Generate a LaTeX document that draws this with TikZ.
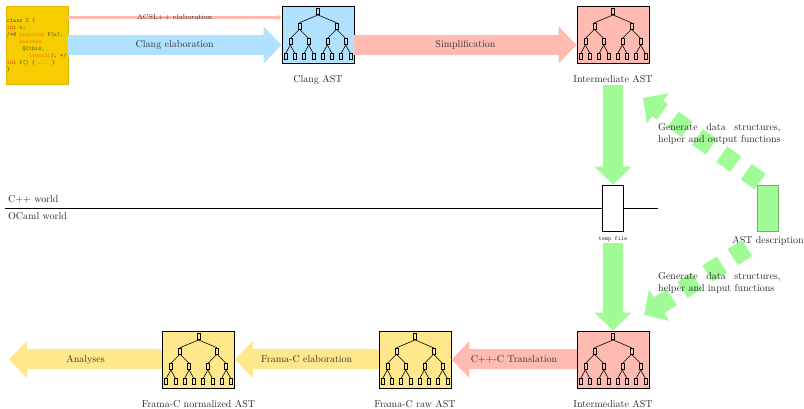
\documentclass[tikz,border=0pt]{standalone}
\usepackage{tikz}
\usetikzlibrary{arrows.meta,calc,positioning}

\definecolor{clangblue}{RGB}{176,226,255}
\definecolor{interpink}{RGB}{255,187,178}
\definecolor{framayellow}{RGB}{255,232,140}
\definecolor{codegold}{RGB}{245,205,0}
\definecolor{codegoldline}{RGB}{222,184,0}
\definecolor{astgreen}{RGB}{160,250,150}
\definecolor{astgreenline}{RGB}{105,185,95}
\definecolor{kwint}{RGB}{240,50,0}
\definecolor{kwacsl}{RGB}{255,110,0}

\tikzset{
  astnode/.style={draw,line width=0.5pt,minimum width=3pt,minimum height=6pt,inner sep=0pt},
  asttree/.pic={
    \node[astnode] (-r) at (0,22.8) {};
    \foreach \i in {0,1}{
      \node[astnode] (-a\i) at ({(2*\i-1)*18.5},8.5) {};
      \draw[line width=0.6pt] (-r.south) -- (-a\i.north);
      \foreach \j in {0,1}{
        \node[astnode] (-b\i\j) at ({(2*\i-1)*18.5+(2*\j-1)*9.2},-7.2) {};
        \draw[line width=0.6pt] (-a\i.south) -- (-b\i\j.north);
        \foreach \k in {0,1}{
          \node[astnode] (-c\i\j\k) at ({(2*\i-1)*18.5+(2*\j-1)*9.2+(2*\k-1)*4.6},-22.2) {};
          \draw[line width=0.6pt] (-b\i\j.south) -- (-c\i\j\k.north);
        }
      }
    }
  },
}

\begin{document}
\begin{tikzpicture}[
  x=1pt,y=1pt,
  astbox/.style  ={draw,line width=0.8pt,minimum width=72pt,minimum height=57pt,inner sep=0pt,
                   label={[label distance=8pt,text=black!85]below:#1}},
  filebox/.style ={draw,line width=0.8pt,minimum width=21pt,minimum height=46pt,inner sep=0pt},
  codebox/.style ={draw=codegoldline,fill=codegold,minimum width=62pt,minimum height=78pt,
                   inner sep=1pt,align=left,text=black!70,
                   font=\fontsize{5.9}{7}\selectfont\ttfamily},
  bigarrow/.style={draw=#1,line width=20pt,-{Triangle[length=18pt,width=36pt]}},
  thinarrow/.style={draw=#1,line width=3.5pt,-{Triangle[length=4pt,width=6pt]}},
  genarrow/.style={draw=astgreen,line width=19pt,dash pattern=on 17pt off 13pt,
                   -{Triangle[length=18pt,width=36pt]}},
  arrowtext/.style={midway,text=black!80},
  gentext/.style ={anchor=north west,inner sep=0pt,text width=122.5pt,align=justify,
                   text=black!85},
]
\useasboundingbox (0,0) rectangle (804,409);

%% C++ side
\node[codebox] (code) at (36.7,364)
  {class C \{\\
   \textcolor{kwint}{int} x;\\
   /*@ \textcolor{kwacsl}{requires} P(x);\\
   \phantom{xxxx}\textcolor{kwacsl}{ensures}\\
   \phantom{xxxxx}Q(this,\\
   \phantom{xxxxxxx}\textcolor{kwacsl}{\textbackslash result}); */\\
   \textcolor{kwint}{int} f() \{ ... \}\\
   \}};

\node[astbox=Clang AST,fill=clangblue] (clang) at (318,374.5) {};
\pic (clangtree) at (clang) {asttree};
\node[astbox=Intermediate AST,fill=interpink] (inter) at (613,374.5) {};
\pic (intertree) at (inter) {asttree};

\coordinate (acslrow) at (0,391.5);
\draw[thinarrow=interpink] (code.east |- acslrow) -- (clang.west |- acslrow)
  node[arrowtext,font=\scriptsize] {ACSL++ elaboration};
\draw[bigarrow=clangblue] (code.east) -- (clang.west |- code.east)
  node[arrowtext] {Clang elaboration};
\draw[bigarrow=interpink] (clang.east |- code.east) -- (inter.west |- code.east)
  node[arrowtext] {Simplification};

%% world boundary
\coordinate (worldL) at (5,201);
\coordinate (worldR) at (658,201);
\draw[line width=0.8pt] (worldL) -- (worldR);
\node[anchor=base west,inner sep=0pt,text=black!85] (cppworld) at ([shift={(3,5)}]worldL) {C++ world};
\node[anchor=base west,inner sep=0pt,text=black!85] (mlworld) at ([shift={(3,-12)}]worldL) {OCaml world};

\node[filebox,fill=white,
      label={[label distance=2pt,font=\fontsize{6}{7}\selectfont\ttfamily,text=black!80]below:temp file}]
      (temp) at (613,201) {};
\node[filebox,draw=astgreenline,fill=astgreen,
      label={[label distance=1.5pt,text=black!85]below:AST description}]
      (astdesc) at (768,201) {};

\draw[bigarrow=astgreen] ([yshift=-22pt]inter.south) -- (temp.north);

%% generated code
\coordinate (outtip) at (643,311);
\coordinate (intip) at (644,94);
\coordinate (intail) at (747,161);
\draw[genarrow] ([shift={(3,3)}]astdesc.north west) -- (outtip);
\draw[genarrow] (intail) -- (intip);
\node[gentext] (genout) at (658,285.6) {Generate data structures, helper and output functions};
\node[gentext] (genin) at (658,137) {Generate data structures, helper and input functions};

%% OCaml side
\node[astbox=Intermediate AST,fill=interpink] (interb) at (613,49.5) {};
\pic (interbtree) at (interb) {asttree};
\node[astbox=Frama-C raw AST,fill=framayellow] (raw) at (415,49.5) {};
\pic (rawtree) at (raw) {asttree};
\node[astbox=Frama-C normalized AST,fill=framayellow] (norm) at (198.5,49.5) {};
\pic (normtree) at (norm) {asttree};
\coordinate (analysesend) at (9,49.5);

\draw[bigarrow=astgreen] ([yshift=-12pt]temp.south) -- (interb.north);
\draw[bigarrow=interpink] (interb.west) -- (raw.east)
  node[arrowtext] {C++-C Translation};
\draw[bigarrow=framayellow] (raw.west) -- (norm.east)
  node[arrowtext] {Frama-C elaboration};
\draw[bigarrow=framayellow] (norm.west) -- (analysesend)
  node[arrowtext] {Analyses};

\end{tikzpicture}
\end{document}
